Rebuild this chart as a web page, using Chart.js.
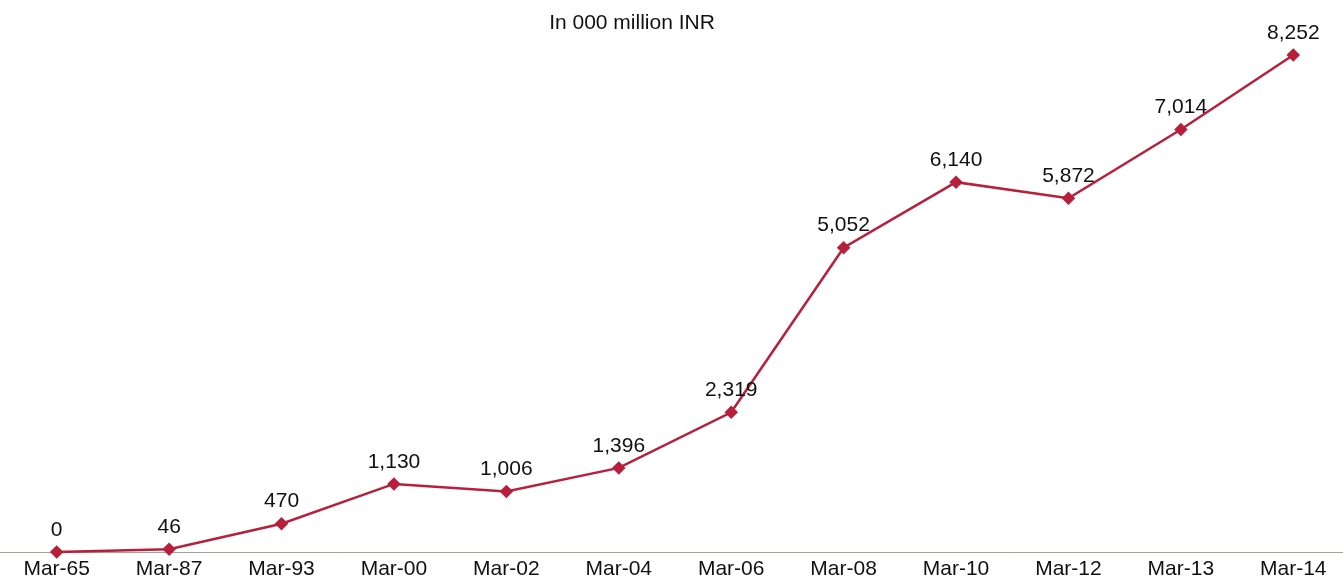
<!DOCTYPE html>
<html lang="en">
<head>
    <meta charset="UTF-8">
    <title>In 000 million INR</title>
    <script src="https://cdn.jsdelivr.net/npm/chart.js"></script>
    <style>
        body {
            margin: 0;
            padding: 0;
            background: #fff;
            overflow: hidden;
        }
        .wrap {
            width: 1364px;
            height: 581px;
            margin-left: -7px;
            position: relative;
        }
    </style>
</head>
<body>
<div class="wrap">
    <canvas id="growthChart"></canvas>
</div>
<script>
    const periods = ['Mar-65', 'Mar-87', 'Mar-93', 'Mar-00', 'Mar-02', 'Mar-04', 'Mar-06', 'Mar-08', 'Mar-10', 'Mar-12', 'Mar-13', 'Mar-14'];
    const amounts = [0, 46, 470, 1130, 1006, 1396, 2319, 5052, 6140, 5872, 7014, 8252];
    const chartTitle = 'In 000 million INR';

    const fontFamily = 'Arial, "Liberation Sans", Helvetica, sans-serif';
    const red = '#b71f3b';

    // title text sits a little left of centre, drawn by hand
    const titlePlugin = {
        id: 'titleText',
        afterDraw(chart) {
            const ctx = chart.ctx;
            ctx.save();
            ctx.font = '21px ' + fontFamily;
            ctx.fillStyle = '#111';
            ctx.textAlign = 'center';
            ctx.textBaseline = 'middle';
            ctx.fillText(chartTitle, 639, 23);
            ctx.restore();
        }
    };

    // value above each point, formatted with thousands separator
    const valueLabels = {
        id: 'valueLabels',
        afterDatasetsDraw(chart) {
            const ctx = chart.ctx;
            const meta = chart.getDatasetMeta(0);
            ctx.save();
            ctx.font = '21px ' + fontFamily;
            ctx.fillStyle = '#111';
            ctx.textAlign = 'center';
            ctx.textBaseline = 'middle';
            meta.data.forEach((pt, i) => {
                ctx.fillText(amounts[i].toLocaleString('en-US'), pt.x, pt.y - 22);
            });
            ctx.restore();
        }
    };

    new Chart(document.getElementById('growthChart'), {
        type: 'line',
        data: {
            labels: periods,
            datasets: [{
                data: amounts,
                borderColor: red,
                backgroundColor: red,
                borderWidth: 2.5,
                pointStyle: 'rectRot',
                pointRadius: 5,
                pointHoverRadius: 5,
                tension: 0,
                clip: false
            }]
        },
        options: {
            responsive: true,
            maintainAspectRatio: false,
            animation: false,
            layout: { padding: { top: 40, left: 0, right: 0, bottom: 0 } },
            plugins: {
                legend: { display: false },
                tooltip: { enabled: false },
                title: { display: false }
            },
            scales: {
                x: {
                    offset: true,
                    grid: { display: false, drawTicks: false },
                    border: { display: true, color: '#aaa097', width: 1 },
                    ticks: {
                        padding: 5,
                        color: '#111',
                        font: { family: fontFamily, size: 21 },
                        maxRotation: 0,
                        autoSkip: false
                    },
                    // fixed label band under the axis line
                    afterFit(scale) {
                        scale.height = 29;
                    }
                },
                y: {
                    display: false,
                    min: 0,
                    max: 8500
                }
            }
        },
        plugins: [titlePlugin, valueLabels]
    });
</script>
</body>
</html>
